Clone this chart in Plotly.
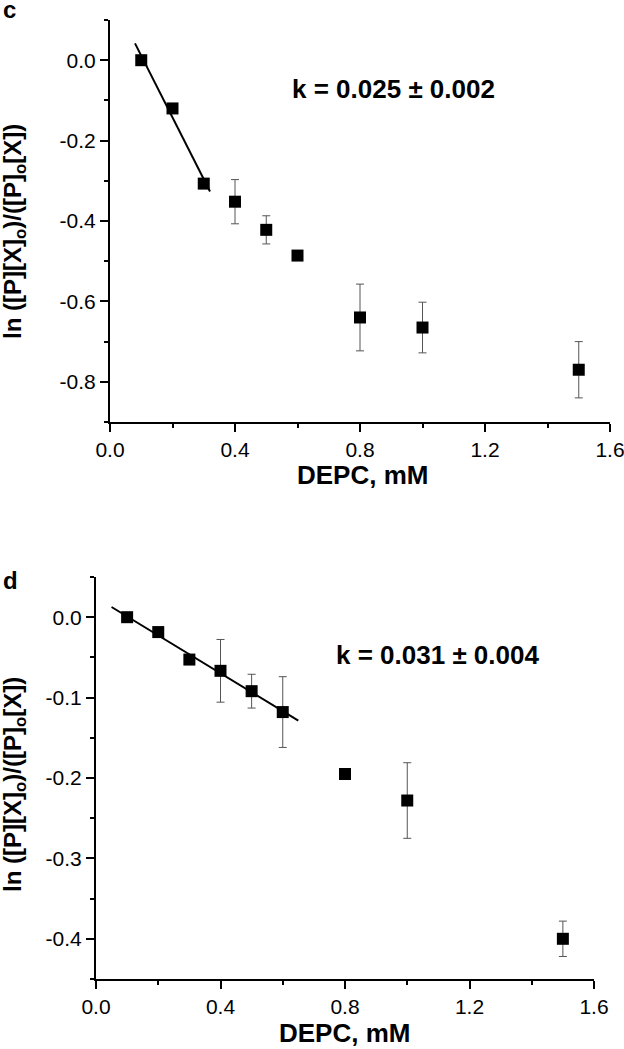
import numpy as np
import plotly.graph_objects as go

# ---------------- data ----------------
depc = [0.1, 0.2, 0.3, 0.4, 0.5, 0.6, 0.8, 1.0, 1.5]

c_vals = [0.0, -0.12, -0.307, -0.352, -0.422, -0.486, -0.640, -0.665, -0.770]
c_err = [0.0, 0.0, 0.0, 0.055, 0.035, 0.008, 0.083, 0.063, 0.070]
c_fit_n = 3
c_fit_range = [0.08, 0.32]
c_label = "k = 0.025 ± 0.002"

d_vals = [0.0, -0.0185, -0.0527, -0.0667, -0.092, -0.118, -0.195, -0.228, -0.400]
d_err = [0.0, 0.0, 0.0, 0.039, 0.021, 0.044, 0.0, 0.047, 0.022]
d_fit_n = 6
d_fit_range = [0.05, 0.65]
d_label = "k = 0.031 ± 0.004"

x_tickvals = [0.0, 0.4, 0.8, 1.2, 1.6]
x_ticktext = ["0.0", "0.4", "0.8", "1.2", "1.6"]
x_minor = [0.2, 0.6, 1.0, 1.4]

c_tickvals = [0.0, -0.2, -0.4, -0.6, -0.8]
c_ticktext = ["0.0", "-0.2", "-0.4", "-0.6", "-0.8"]
c_minor = [0.1, -0.1, -0.3, -0.5, -0.7, -0.9]

d_tickvals = [0.0, -0.1, -0.2, -0.3, -0.4]
d_ticktext = ["0.0", "-0.1", "-0.2", "-0.3", "-0.4"]
d_minor = [0.05, -0.05, -0.15, -0.25, -0.35, -0.45]

ytitle = "ln ([P][X]<sub>o</sub>)/([P]<sub>o</sub>[X])"
xtitle = "DEPC, mM"

# ---------------- layout helpers ----------------
W, H = 624, 1049
FONT = "Liberation Sans, Arial, sans-serif"


def px(x):
    return x / W


def py(y):
    return 1 - y / H


fig = go.Figure()


def add_panel(xa, ya, vals, err, nfit, frange):
    xs = np.array(depc[:nfit])
    ys = np.array(vals[:nfit])
    slope, intercept = np.polyfit(xs, ys, 1)
    fx = np.array(frange)
    fig.add_trace(go.Scatter(
        x=fx, y=intercept + slope * fx, mode="lines",
        line=dict(color="black", width=2), xaxis=xa, yaxis=ya,
        showlegend=False, hoverinfo="skip"))
    fig.add_trace(go.Scatter(
        x=depc, y=vals, mode="markers",
        marker=dict(symbol="square", size=12, color="black"),
        error_y=dict(type="data", array=err, visible=True,
                     color="#555555", thickness=1, width=4),
        xaxis=xa, yaxis=ya, showlegend=False))


add_panel("x", "y", c_vals, c_err, c_fit_n, c_fit_range)
add_panel("x2", "y2", d_vals, d_err, d_fit_n, d_fit_range)

axis_common = dict(
    showline=True, linecolor="black", linewidth=2, showgrid=False,
    zeroline=False, ticks="outside", ticklen=8, tickwidth=1.5,
    tickcolor="black", mirror=False,
    tickfont=dict(family=FONT, size=21, color="black"),
    tickmode="array", ticklabeloverflow="allow",
)

fig.update_layout(
    width=W, height=H,
    margin=dict(l=0, r=0, t=0, b=0, pad=0, autoexpand=False),
    paper_bgcolor="white", plot_bgcolor="white",
    xaxis=dict(axis_common, domain=[px(110), px(610)], range=[0, 1.6],
               anchor="y", tickvals=x_tickvals, ticktext=x_ticktext,
               minor=dict(tickvals=x_minor, ticklen=4, tickwidth=1.5,
                          tickcolor="black", ticks="outside")),
    yaxis=dict(axis_common, domain=[py(422), py(20)], range=[-0.9, 0.1],
               anchor="x", tickvals=c_tickvals, ticktext=c_ticktext,
               minor=dict(tickvals=c_minor, ticklen=4, tickwidth=1.5,
                          tickcolor="black", ticks="outside")),
    xaxis2=dict(axis_common, domain=[px(96), px(594)], range=[0, 1.6],
                anchor="y2", tickvals=x_tickvals, ticktext=x_ticktext,
                minor=dict(tickvals=x_minor, ticklen=4, tickwidth=1.5,
                           tickcolor="black", ticks="outside")),
    yaxis2=dict(axis_common, domain=[py(979), py(577)], range=[-0.45, 0.05],
                anchor="x2", tickvals=d_tickvals, ticktext=d_ticktext,
                minor=dict(tickvals=d_minor, ticklen=4, tickwidth=1.5,
                           tickcolor="black", ticks="outside")),
)

anns = [
    dict(text="<b>c</b>", x=px(1), y=py(10), xanchor="left", yanchor="middle", size=24),
    dict(text="<b>d</b>", x=px(1), y=py(580), xanchor="left", yanchor="middle", size=24),
    dict(text="<b>" + c_label + "</b>", x=px(393), y=py(89), xanchor="center", yanchor="middle", size=26),
    dict(text="<b>" + d_label + "</b>", x=px(437), y=py(655), xanchor="center", yanchor="middle", size=26),
    dict(text="<b>" + xtitle + "</b>", x=px(362), y=py(475), xanchor="center", yanchor="middle", size=26),
    dict(text="<b>" + xtitle + "</b>", x=px(344), y=py(1033), xanchor="center", yanchor="middle", size=26),
]
for a in anns:
    fig.add_annotation(text=a["text"], x=a["x"], y=a["y"], xref="paper", yref="paper",
                       xanchor=a["xanchor"], yanchor=a["yanchor"], showarrow=False,
                       font=dict(family=FONT, size=a["size"], color="black"))

for yc in [232, 785]:
    fig.add_annotation(text="<b>" + ytitle + "</b>", x=px(14), y=py(yc), xref="paper", yref="paper",
                       xanchor="center", yanchor="middle", textangle=-90, showarrow=False,
                       font=dict(family=FONT, size=24, color="black"))

fig.write_html("out.html", config={"displayModeBar": False},
               post_script="document.body.style.margin='0';document.body.style.overflow='hidden';")
